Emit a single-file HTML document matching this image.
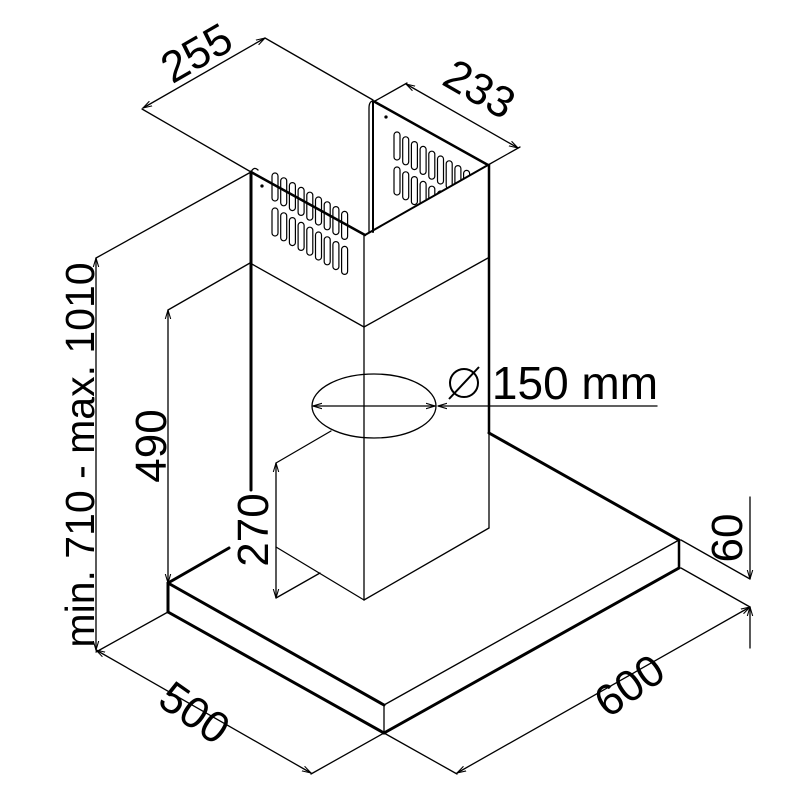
<!DOCTYPE html>
<html><head><style>body{margin:0;background:#fff}svg{display:block}</style></head><body>
<svg width="800" height="800" viewBox="0 0 800 800" xmlns="http://www.w3.org/2000/svg">
<defs>
<marker id="a" viewBox="0 0 10 10" refX="10" refY="5" markerWidth="9" markerHeight="9" orient="auto-start-reverse" markerUnits="userSpaceOnUse"><path d="M0,2 L10,5 L0,8" fill="none" stroke="#000" stroke-width="1.2"/></marker>
<clipPath id="rp"><polygon points="375,102 488,165 365,235 373,233 373,102"/></clipPath>
</defs>
<g fill="none" stroke="#000" stroke-width="1.3" stroke-linecap="round">
<line x1="168" y1="583" x2="384" y2="705" stroke-width="3"/>
<line x1="168" y1="612" x2="384" y2="733" stroke-width="3"/>
<line x1="384" y1="733" x2="679" y2="568" stroke-width="3"/>
<line x1="168" y1="583" x2="168" y2="612" stroke-width="3"/>
<line x1="168" y1="583" x2="229" y2="548" stroke-width="3"/>
<line x1="384" y1="705" x2="679" y2="540"/>
<line x1="384" y1="705" x2="384" y2="733"/>
<line x1="679" y1="540" x2="679" y2="568" stroke-width="2.5"/>
<line x1="489" y1="433" x2="679" y2="540" stroke-width="3"/>
<line x1="251" y1="172" x2="251" y2="490" stroke-width="3"/>
<line x1="489" y1="165" x2="489" y2="433" stroke-width="2.5"/>
<line x1="489" y1="433" x2="489" y2="528"/>
<line x1="489" y1="528" x2="364" y2="600"/>
<line x1="364" y1="235" x2="364" y2="600"/>
<line x1="276" y1="547" x2="364" y2="600"/>
<line x1="250" y1="263" x2="364" y2="327"/>
<line x1="364" y1="327" x2="488" y2="258"/>
<line x1="251" y1="172" x2="365" y2="235" stroke-width="2.5"/>
<line x1="365" y1="235" x2="488" y2="165" stroke-width="2"/>
<line x1="375" y1="102" x2="488" y2="165" stroke-width="2.5"/>
<line x1="373" y1="102" x2="373" y2="232" stroke-width="2"/>
<path d="M369,232 L369,108 Q369,100 375,101" stroke-width="1.3"/>
<path d="M251,172 Q254,166 258,170"/>
<circle cx="262" cy="186" r="1" fill="#000"/>
<circle cx="386" cy="117" r="1" fill="#000"/>
<g stroke-width="1.2">
<rect x="272" y="173" width="6" height="28" rx="3"/><rect x="280.7" y="177.8" width="6" height="28" rx="3"/><rect x="289.4" y="182.6" width="6" height="28" rx="3"/><rect x="298.1" y="187.4" width="6" height="28" rx="3"/><rect x="306.8" y="192.2" width="6" height="28" rx="3"/><rect x="315.5" y="197" width="6" height="28" rx="3"/><rect x="324.2" y="201.8" width="6" height="28" rx="3"/><rect x="332.9" y="206.6" width="6" height="28" rx="3"/><rect x="341.6" y="211.4" width="6" height="28" rx="3"/>
<rect x="272" y="208" width="6" height="28" rx="3"/><rect x="280.7" y="212.8" width="6" height="28" rx="3"/><rect x="289.4" y="217.6" width="6" height="28" rx="3"/><rect x="298.1" y="222.4" width="6" height="28" rx="3"/><rect x="306.8" y="227.2" width="6" height="28" rx="3"/><rect x="315.5" y="232" width="6" height="28" rx="3"/><rect x="324.2" y="236.8" width="6" height="28" rx="3"/><rect x="332.9" y="241.6" width="6" height="28" rx="3"/><rect x="341.6" y="246.4" width="6" height="28" rx="3"/>
</g>
<g stroke-width="1.2" clip-path="url(#rp)">
<rect x="394" y="132" width="6" height="28" rx="3"/><rect x="402.7" y="136.8" width="6" height="28" rx="3"/><rect x="411.4" y="141.6" width="6" height="28" rx="3"/><rect x="420.1" y="146.4" width="6" height="28" rx="3"/><rect x="428.8" y="151.2" width="6" height="28" rx="3"/><rect x="437.5" y="156" width="6" height="28" rx="3"/><rect x="446.2" y="160.8" width="6" height="28" rx="3"/><rect x="454.9" y="165.6" width="6" height="28" rx="3"/><rect x="463.6" y="170.4" width="6" height="28" rx="3"/>
<rect x="394" y="167" width="6" height="28" rx="3"/><rect x="402.7" y="171.8" width="6" height="28" rx="3"/><rect x="411.4" y="176.6" width="6" height="28" rx="3"/><rect x="420.1" y="181.4" width="6" height="28" rx="3"/><rect x="428.8" y="186.2" width="6" height="28" rx="3"/><rect x="437.5" y="191" width="6" height="28" rx="3"/><rect x="446.2" y="195.8" width="6" height="28" rx="3"/><rect x="454.9" y="200.6" width="6" height="28" rx="3"/><rect x="463.6" y="205.4" width="6" height="28" rx="3"/>
</g>
<ellipse cx="374" cy="406" rx="62" ry="32"/>
<line x1="313" y1="406" x2="435" y2="406" marker-start="url(#a)" marker-end="url(#a)"/>
<line x1="438" y1="406" x2="657" y2="406" marker-start="url(#a)"/>
<line x1="276" y1="463" x2="331" y2="431"/>
<line x1="276" y1="598" x2="320" y2="573"/>
<line x1="276" y1="463" x2="276" y2="598" marker-start="url(#a)" marker-end="url(#a)"/>
<line x1="168" y1="310" x2="250" y2="263"/>
<line x1="168" y1="310" x2="168" y2="583" marker-start="url(#a)" marker-end="url(#a)"/>
<line x1="96" y1="258" x2="251" y2="172"/>
<line x1="96" y1="258" x2="96" y2="650" marker-start="url(#a)" marker-end="url(#a)"/>
<line x1="168" y1="612" x2="96" y2="652"/>
<line x1="384" y1="733" x2="311" y2="774"/>
<line x1="96" y1="650" x2="311" y2="773" marker-start="url(#a)" marker-end="url(#a)"/>
<line x1="384" y1="733" x2="457" y2="774"/>
<line x1="457" y1="773" x2="750" y2="607" marker-start="url(#a)" marker-end="url(#a)"/>
<line x1="681" y1="540" x2="750" y2="579"/>
<line x1="681" y1="568" x2="750" y2="607"/>
<line x1="750" y1="497" x2="750" y2="579" marker-end="url(#a)"/>
<line x1="750" y1="648" x2="750" y2="607" marker-end="url(#a)"/>
<line x1="251" y1="172" x2="142" y2="109"/>
<line x1="373" y1="100" x2="265" y2="38"/>
<line x1="143" y1="108" x2="265" y2="38" marker-start="url(#a)" marker-end="url(#a)"/>
<line x1="375" y1="101" x2="407" y2="83"/>
<line x1="488" y1="165" x2="520" y2="147"/>
<line x1="406" y1="84" x2="518" y2="148" marker-start="url(#a)" marker-end="url(#a)"/>
</g>
<g font-family="Liberation Sans, sans-serif" font-size="44" fill="#000" text-anchor="middle">
<text x="0" y="0" transform="translate(204,66) rotate(-30)">255</text>
<text x="0" y="0" transform="translate(472,102) rotate(30)">233</text>
<text x="0" y="0" font-size="41" transform="translate(94,455) rotate(-90)">min. 710 - max. 1010</text>
<text x="0" y="0" transform="translate(166,446) rotate(-90)">490</text>
<text x="0" y="0" transform="translate(268,530) rotate(-90)">270</text>
<text x="0" y="0" transform="translate(742,538) rotate(-90)">60</text>
<text x="0" y="0" transform="translate(186,725) rotate(35)">500</text>
<text x="0" y="0" transform="translate(638,698) rotate(-35)">600</text>
<text x="575" y="399" font-size="46">150 mm</text>
</g>
<g fill="none" stroke="#000" stroke-width="2"><circle cx="464" cy="383" r="14"/><line x1="449" y1="399" x2="479" y2="367"/></g>
</svg>
</body></html>
